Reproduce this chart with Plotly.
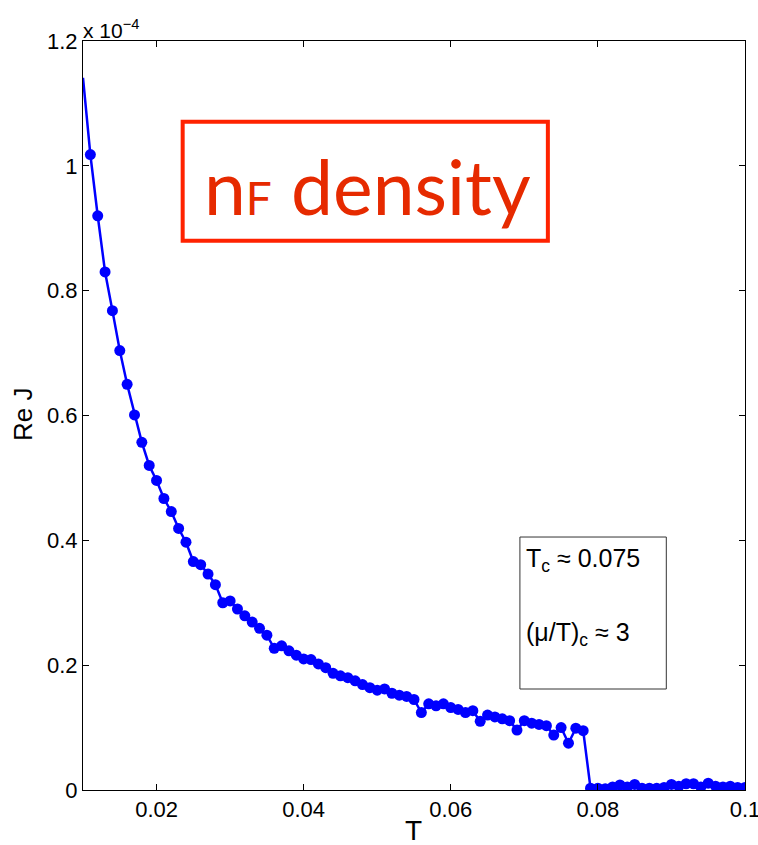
import plotly.graph_objects as go

# Temperature values
T = [0.010, 0.011, 0.012, 0.013, 0.014, 0.015, 0.016, 0.017, 0.018, 0.019,
     0.020, 0.021, 0.022, 0.023, 0.024, 0.025, 0.026, 0.027, 0.028, 0.029,
     0.030, 0.031, 0.032, 0.033, 0.034, 0.035, 0.036, 0.037, 0.038, 0.039,
     0.040, 0.041, 0.042, 0.043, 0.044, 0.045, 0.046, 0.047, 0.048, 0.049,
     0.050, 0.051, 0.052, 0.053, 0.054, 0.055, 0.056, 0.057, 0.058, 0.059,
     0.060, 0.061, 0.062, 0.063, 0.064, 0.065, 0.066, 0.067, 0.068, 0.069,
     0.070, 0.071, 0.072, 0.073, 0.074, 0.075, 0.076, 0.077, 0.078, 0.079,
     0.080, 0.081, 0.082, 0.083, 0.084, 0.085, 0.086, 0.087, 0.088, 0.089,
     0.090, 0.091, 0.092, 0.093, 0.094, 0.095, 0.096, 0.097, 0.098, 0.099,
     0.100]

# Re J in units of 1e-4
ReJ = [1.141, 1.018, 0.920, 0.830, 0.768, 0.704, 0.650, 0.601, 0.557, 0.520,
       0.496, 0.467, 0.446, 0.419, 0.397, 0.366, 0.361, 0.346, 0.329, 0.300,
       0.303, 0.290, 0.279, 0.269, 0.259, 0.248, 0.227, 0.231, 0.223, 0.216,
       0.210, 0.209, 0.202, 0.196, 0.187, 0.183, 0.180, 0.175, 0.169, 0.164,
       0.160, 0.162, 0.155, 0.152, 0.150, 0.145, 0.124, 0.138, 0.135, 0.138,
       0.132, 0.129, 0.124, 0.127, 0.110, 0.120, 0.117, 0.114, 0.111, 0.096,
       0.111, 0.107, 0.105, 0.103, 0.088, 0.100, 0.075, 0.099, 0.095, 0.003,
       0.003, 0.002, 0.005, 0.008, 0.005, 0.009, 0.003, 0.003, 0.003, 0.004,
       0.009, 0.006, 0.010, 0.010, 0.005, 0.011, 0.006, 0.005, 0.006, 0.004,
       0.004]

x_ticks = [0.02, 0.04, 0.06, 0.08, 0.1]
x_ticktext = ["0.02", "0.04", "0.06", "0.08", "0.1"]
y_ticks = [0, 0.2, 0.4, 0.6, 0.8, 1.0, 1.2]
y_ticktext = ["0", "0.2", "0.4", "0.6", "0.8", "1", "1.2"]

BLUE = "#0000FF"
RED = "#FF2200"
FONT = "Liberation Sans, Arial, Helvetica, sans-serif"

fig = go.Figure()
fig.add_trace(go.Scatter(
    x=T, y=ReJ, mode="lines+markers",
    line=dict(color=BLUE, width=2.5),
    marker=dict(color=BLUE, opacity=1, size=[0] + [11] * (len(T) - 1),
                line=dict(width=0)),
    showlegend=False,
))

axis_common = dict(
    showline=True, linecolor="black", linewidth=1, mirror="ticks",
    ticks="inside", ticklen=6, tickcolor="black", tickwidth=1,
    showgrid=False, zeroline=False, automargin=False,
    ticklabeloverflow="allow",
    tickfont=dict(family=FONT, size=22, color="black"),
)

fig.update_xaxes(range=[0.01, 0.1], tickvals=x_ticks, ticktext=x_ticktext,
                 **axis_common)
fig.update_yaxes(range=[0, 1.2], tickvals=y_ticks, ticktext=y_ticktext,
                 **axis_common)

# axis titles
fig.add_annotation(x=0.5, y=0, xref="paper", yref="paper", text="T",
                   showarrow=False, xanchor="center", yanchor="middle",
                   yshift=-40, xshift=-1,
                   font=dict(family=FONT, size=28, color="black"))
fig.add_annotation(x=0, y=(790 - 415) / 749, xref="paper", yref="paper", text="Re J",
                   showarrow=False, xanchor="center", yanchor="middle",
                   xshift=-60, textangle=-90,
                   font=dict(family=FONT, size=26, color="black"))

# red "nF density" box
fig.add_shape(type="rect", xref="x", yref="y",
              x0=0.02355, x1=0.0732, y0=0.880, y1=1.0707,
              line=dict(color=RED, width=4), fillcolor="white", layer="above")
fig.add_annotation(x=0.0487, y=0.968, xref="x", yref="y",
                   text="n<span style='font-size:46px'>F</span> density", showarrow=False,
                   font=dict(family="Lato, Open Sans, sans-serif", size=75, color="#E62A00"),
                   xanchor="center", yanchor="middle")

# Tc info box
fig.add_shape(type="rect", xref="x", yref="y",
              x0=0.0694, x1=0.0893, y0=0.1618, y1=0.4053,
              line=dict(color="#333333", width=1), fillcolor="white", layer="above")
fig.add_annotation(x=0.0699, y=0.3680, xref="x", yref="y",
                   text="T<sub>c</sub> ≈ 0.075", showarrow=False,
                   font=dict(family=FONT, size=25, color="black"),
                   xanchor="left", yanchor="middle")
fig.add_annotation(x=0.0699, y=0.2500, xref="x", yref="y",
                   text="(μ/T)<sub>c</sub> ≈ 3", showarrow=False,
                   font=dict(family=FONT, size=25, color="black"),
                   xanchor="left", yanchor="middle")

# exponent label
fig.add_annotation(x=0, y=1.0, xref="paper", yref="paper",
                   text="x 10<sup>−4</sup>", showarrow=False,
                   font=dict(family=FONT, size=21, color="black"),
                   xanchor="left", yanchor="bottom", yshift=-3, xshift=-2)

fig.update_layout(
    width=758, height=845,
    margin=dict(l=83, r=13, t=41, b=55),
    plot_bgcolor="white", paper_bgcolor="white",
)

fig.write_html("out.html")
